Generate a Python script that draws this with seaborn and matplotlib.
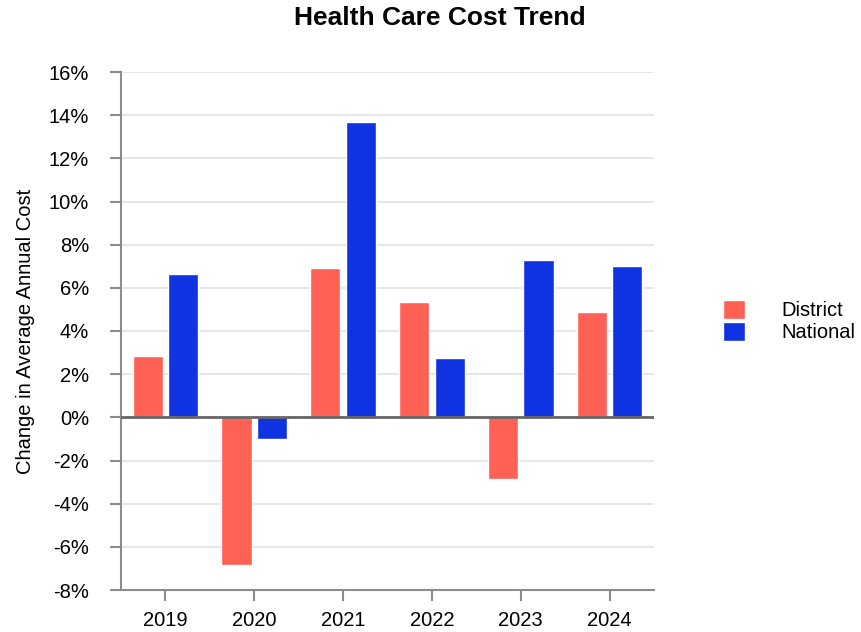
import pandas as pd
import seaborn as sns
import matplotlib.pyplot as plt
from matplotlib.ticker import FuncFormatter

years = ["2019", "2020", "2021", "2022", "2023", "2024"]
district = [2.83, -6.86, 6.91, 5.33, -2.88, 4.87]
national = [6.63, -1.02, 13.68, 2.74, 7.28, 7.00]
series = ["District", "National"]
colors = {"District": "#ff6155", "National": "#0f33e0"}

df = pd.DataFrame({
    "year": years * 2,
    "value": district + national,
    "series": ["District"] * len(years) + ["National"] * len(years),
})

sns.set_style("white")
plt.rcParams['font.family'] = ['Liberation Sans', 'DejaVu Sans']
plt.rcParams['text.color'] = 'black'
plt.rcParams['axes.labelcolor'] = 'black'

fig = plt.figure(figsize=(8.62, 6.32), dpi=100)
ax = fig.add_axes([121 / 862, 1 - 590 / 632, (654 - 121) / 862, (590 - 72) / 632])

sns.barplot(data=df, x="year", y="value", hue="series", hue_order=series,
            palette=colors, width=0.8, gap=0.15, saturation=1, ax=ax, zorder=3)

ax.set_ylim(-8, 16)
ax.set_xlim(-0.5, 5.5)
ax.set_yticks(range(-8, 17, 2))
ax.yaxis.set_major_formatter(FuncFormatter(lambda v, p: f"{int(v)}%"))
ax.grid(axis="y", color="#e3e3e3", linewidth=1.2, zorder=0)
ax.axhline(0, color="#666666", linewidth=2, zorder=4)

for s in ["top", "right"]:
    ax.spines[s].set_visible(False)
for s in ["left", "bottom"]:
    ax.spines[s].set_color("#8c8c8c")
    ax.spines[s].set_linewidth(1.5)
ax.tick_params(axis="both", direction="out", length=8, width=1.5, color="#8c8c8c",
               labelsize=14.5, labelcolor="black")
ax.tick_params(axis="y", left=True, pad=15)
ax.tick_params(axis="x", bottom=True, pad=7)

ax.set_xlabel("")
ax.set_ylabel("Change in Average Annual Cost", fontsize=14.5, labelpad=10, color="black")

ax.legend(loc="center left", bbox_to_anchor=(723 / 862, 1 - 321 / 632),
          bbox_transform=fig.transFigure, frameon=False, fontsize=14.5,
          handlelength=1.1, handleheight=1.1, handletextpad=1.8,
          labelspacing=0.05, borderpad=0, borderaxespad=0)

fig.text(440 / 862, 1 - 18 / 632, "Health Care Cost Trend", ha="center", va="center",
         fontsize=19, fontweight="bold", color="black")

plt.savefig("out.png", dpi=100)
